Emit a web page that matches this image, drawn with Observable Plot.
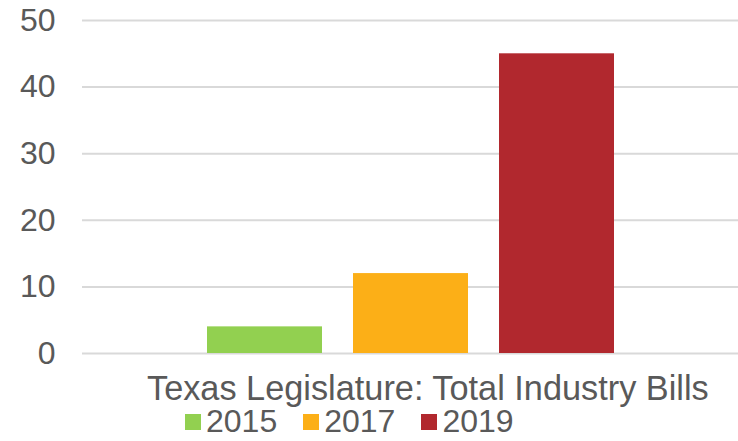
<!DOCTYPE html>
<html>
<head>
<meta charset="utf-8">
<script src="https://cdn.jsdelivr.net/npm/d3@7"></script>
<script src="https://cdn.jsdelivr.net/npm/@observablehq/plot@0.6"></script>
<style>
  html, body { margin: 0; padding: 0; background: #fff; }
  #wrap { position: relative; width: 738px; height: 441px; font-family: "Liberation Sans", Arial, sans-serif; color: #595959; }
  #wrap svg { position: absolute; left: 0; top: 0; }
  #label { position: absolute; left: 147px; top: 373px; font-size: 34.3px; line-height: 30px; white-space: nowrap; }
  #legend { position: absolute; left: 185px; top: 406px; font-size: 32px; line-height: 30px; white-space: nowrap; display: flex; align-items: center; }
  .item { display: flex; align-items: center; margin-right: 26px; }
  .sw { width: 16px; height: 16px; margin-right: 5px; margin-top: 2px; }
</style>
</head>
<body>
<div id="wrap"></div>
<script>
const years = ["2015", "2017", "2019"];
const bills = [4, 12, 45];
const colors = ["#92d050", "#fcaf17", "#b1282e"];
const yTicks = [0, 10, 20, 30, 40, 50];
const axisLabel = "Texas Legislature: Total Industry Bills";

const data = years.map((y, i) => ({year: y, value: bills[i]}));

const plot = Plot.plot({
  width: 738,
  height: 441,
  marginTop: 20,
  marginBottom: 88,
  marginLeft: 82,
  marginRight: 0,
  style: {fontFamily: "Liberation Sans, Arial, sans-serif", fontSize: "32px", color: "#595959", background: "#fff"},
  x: {domain: years, paddingInner: 0.21, paddingOuter: 0.844, insetLeft: 2, axis: null},
  y: {domain: [0, 50], ticks: yTicks, label: null},
  color: {domain: years, range: colors},
  marks: [
    Plot.gridY(yTicks, {stroke: "#d9d9d9", strokeOpacity: 1, strokeWidth: 2}),
    Plot.axisY(yTicks, {tickSize: 0, tickPadding: 27, label: null, fill: "#595959", fontSize: 32}),
    Plot.barY(data, {x: "year", y: "value", fill: "year"})
  ]
});

const wrap = document.getElementById("wrap");
wrap.appendChild(plot);

const lab = document.createElement("div");
lab.id = "label";
lab.textContent = axisLabel;
wrap.appendChild(lab);

const leg = document.createElement("div");
leg.id = "legend";
years.forEach((y, i) => {
  const it = document.createElement("div");
  it.className = "item";
  const sw = document.createElement("div");
  sw.className = "sw";
  sw.style.background = colors[i];
  const t = document.createElement("span");
  t.textContent = y;
  it.appendChild(sw);
  it.appendChild(t);
  leg.appendChild(it);
});
wrap.appendChild(leg);
</script>
</body>
</html>
